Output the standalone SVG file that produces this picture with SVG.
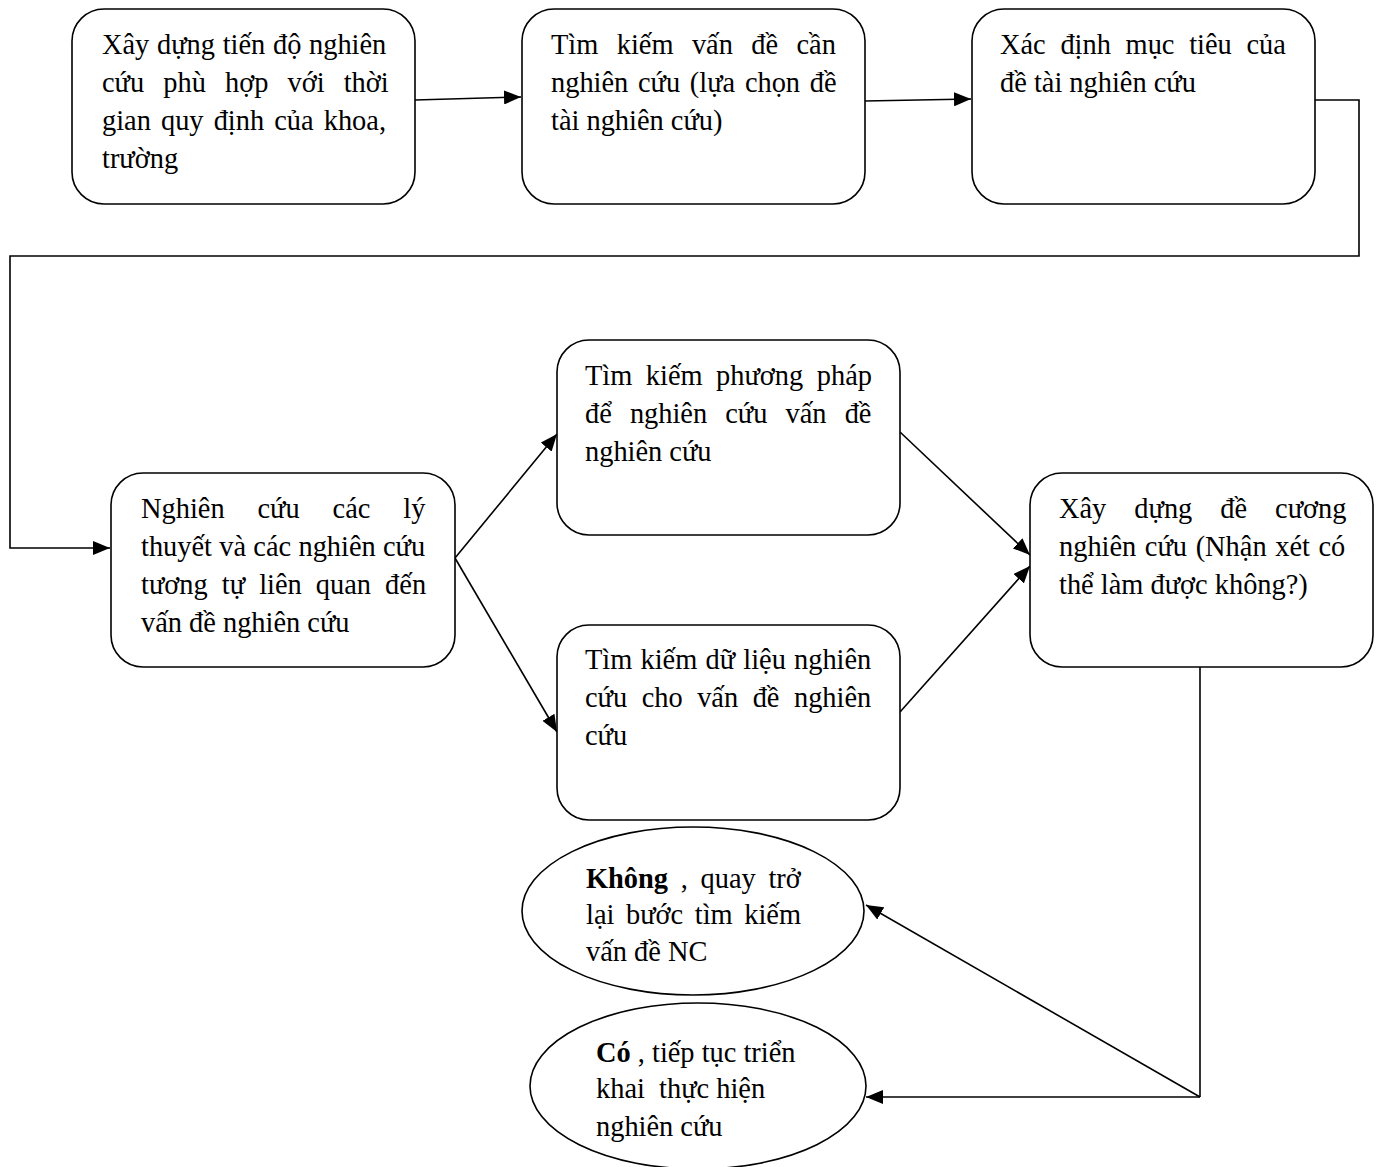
<svg xmlns="http://www.w3.org/2000/svg" width="1382" height="1167" viewBox="0 0 1382 1167">
<style>
.box{fill:#fff;stroke:#000;stroke-width:1.6}
.t{font-family:"Liberation Serif","Times New Roman",serif;font-size:28.4px;fill:#000}
.c{fill:none;stroke:#000;stroke-width:1.6}
</style>
<defs>
<marker id="ah" markerUnits="userSpaceOnUse" markerWidth="18" markerHeight="14" refX="17" refY="7" orient="auto">
<path d="M0,0 L17,7 L0,14 z" fill="#000"/>
</marker>
</defs>
<rect width="1382" height="1167" fill="#fff"/>
<g id="connectors">
<line class="c" x1="415" y1="100" x2="521" y2="97" marker-end="url(#ah)"/>
<line class="c" x1="865" y1="101" x2="971" y2="99" marker-end="url(#ah)"/>
<polyline class="c" points="1315,100 1359,100 1359,256 10,256 10,548 110,548" marker-end="url(#ah)"/>
<line class="c" x1="455" y1="558" x2="557" y2="434" marker-end="url(#ah)"/>
<line class="c" x1="455" y1="558" x2="557" y2="732" marker-end="url(#ah)"/>
<line class="c" x1="900" y1="432" x2="1030" y2="555" marker-end="url(#ah)"/>
<line class="c" x1="900" y1="712" x2="1030" y2="566" marker-end="url(#ah)"/>
<line class="c" x1="1200" y1="667" x2="1200" y2="1097"/>
<line class="c" x1="1200" y1="1097" x2="866" y2="905" marker-end="url(#ah)"/>
<line class="c" x1="1200" y1="1097" x2="866" y2="1097" marker-end="url(#ah)"/>
</g>
<g id="n1">
<rect class="box" x="72" y="9" width="343" height="195" rx="32"/>
<text class="t"><tspan x="102" y="54" style="word-spacing:0.6px">Xây dựng tiến độ nghiên</tspan><tspan x="102" y="92" style="word-spacing:12px">cứu phù hợp với thời</tspan><tspan x="102" y="130" style="word-spacing:3px">gian quy định của khoa,</tspan><tspan x="102" y="168">trường</tspan></text>
</g>
<g id="n2">
<rect class="box" x="522" y="9" width="343" height="195" rx="32"/>
<text class="t"><tspan x="551" y="54" style="word-spacing:11.3px">Tìm kiếm vấn đề cần</tspan><tspan x="551" y="92" style="word-spacing:2.6px">nghiên cứu (lựa chọn đề</tspan><tspan x="551" y="130">tài nghiên cứu)</tspan></text>
</g>
<g id="n3">
<rect class="box" x="972" y="9" width="343" height="195" rx="32"/>
<text class="t"><tspan x="1000" y="54" style="word-spacing:7.6px">Xác định mục tiêu của</tspan><tspan x="1000" y="92">đề tài nghiên cứu</tspan></text>
</g>
<g id="n4">
<rect class="box" x="111" y="473" width="344" height="194" rx="32"/>
<text class="t"><tspan x="141" y="518" style="word-spacing:25.8px">Nghiên cứu các lý</tspan><tspan x="141" y="556" style="word-spacing:0.2px">thuyết và các nghiên cứu</tspan><tspan x="141" y="594" style="word-spacing:7px">tương tự liên quan đến</tspan><tspan x="141" y="632">vấn đề nghiên cứu</tspan></text>
</g>
<g id="n5">
<rect class="box" x="557" y="340" width="343" height="195" rx="32"/>
<text class="t"><tspan x="585" y="385" style="word-spacing:6.4px">Tìm kiếm phương pháp</tspan><tspan x="585" y="423" style="word-spacing:11px">để nghiên cứu vấn đề</tspan><tspan x="585" y="461">nghiên cứu</tspan></text>
</g>
<g id="n6">
<rect class="box" x="557" y="625" width="343" height="195" rx="32"/>
<text class="t"><tspan x="585" y="669" style="word-spacing:1.1px">Tìm kiếm dữ liệu nghiên</tspan><tspan x="585" y="707" style="word-spacing:7.4px">cứu cho vấn đề nghiên</tspan><tspan x="585" y="745">cứu</tspan></text>
</g>
<g id="n7">
<rect class="box" x="1030" y="473" width="343" height="194" rx="32"/>
<text class="t"><tspan x="1059" y="518" style="word-spacing:20.9px">Xây dựng đề cương</tspan><tspan x="1059" y="556" style="word-spacing:1.5px">nghiên cứu (Nhận xét có</tspan><tspan x="1059" y="594">thể làm được không?)</tspan></text>
</g>
<g id="n8">
<ellipse class="box" cx="693" cy="911" rx="171" ry="84"/>
<text class="t"><tspan x="586" y="888" style="word-spacing:5.6px"><tspan font-weight="bold">Không</tspan> , quay trở</tspan><tspan x="586" y="924" style="word-spacing:4.5px">lại bước tìm kiếm</tspan><tspan x="586" y="961">vấn đề NC</tspan></text>
</g>
<g id="n9">
<ellipse class="box" cx="698" cy="1086" rx="168" ry="83"/>
<text class="t" xml:space="preserve"><tspan x="596" y="1062"><tspan font-weight="bold">Có</tspan> , tiếp tục triển</tspan><tspan x="596" y="1098">khai  thực hiện</tspan><tspan x="596" y="1136">nghiên cứu</tspan></text>
</g>
</svg>
